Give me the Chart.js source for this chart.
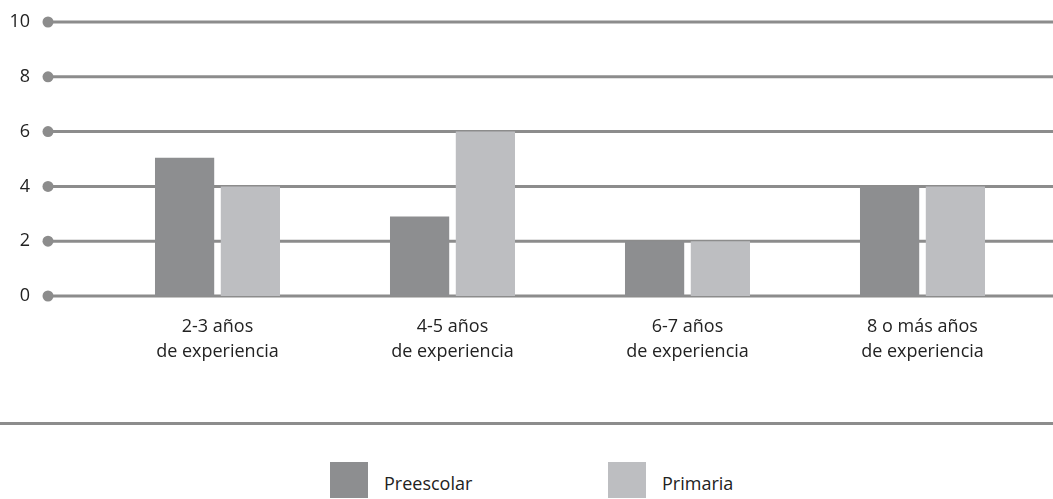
<!DOCTYPE html>
<html>
<head>
<meta charset="utf-8">
<script src="https://cdn.jsdelivr.net/npm/chart.js@4/dist/chart.umd.min.js"></script>
<style>
  body { margin: 0; background: #fff; font-family: 'Open Sans', sans-serif; }
  #wrap { position: relative; width: 1053px; height: 499px; overflow: hidden; }
  #chartBox { position: absolute; left: 0; top: 0; width: 1053px; height: 361px; }
  #rule { position: absolute; left: 0; top: 422px; width: 1053px; height: 3px; background: #8c8c8c; }
  #legend { position: absolute; left: 330px; top: 462px; display: flex; }
  .item { display: flex; align-items: center; width: 278px; }
  .swatch { width: 38px; height: 36px; margin-right: 16px; }
  .item span { font-size: 18px; color: #222; margin-top: 6px; }
</style>
</head>
<body>
<div id="wrap">
  <div id="chartBox"><canvas id="myChart"></canvas></div>
  <div id="rule"></div>
  <div id="legend"></div>
</div>
<script>
let categories = [['2-3 años', 'de experiencia'], ['4-5 años', 'de experiencia'], ['6-7 años', 'de experiencia'], ['8 o más años', 'de experiencia']];
let seriesNames = ['Preescolar', 'Primaria'];
let preescolar = [5.05, 2.9, 2, 4];
let primaria = [4, 6, 2, 4];
let yTicks = [0, 2, 4, 6, 8, 10];
let colorHex = ['#8d8e90', '#bdbec1'];

// gridlines with a dot at the left end, drawn behind the bars
let dotGrid = {
  id: 'dotGrid',
  beforeDatasetsDraw(chart) {
    let c = chart.ctx;
    let y = chart.scales.y;
    c.save();
    yTicks.forEach((t) => {
      let py = y.getPixelForValue(t);
      c.strokeStyle = '#8c8c8c';
      c.lineWidth = 3;
      c.beginPath();
      c.moveTo(48, py);
      c.lineTo(chart.width, py);
      c.stroke();
      c.fillStyle = '#8c8c8c';
      c.beginPath();
      c.arc(48, py, 5.5, 0, Math.PI * 2);
      c.fill();
    });
    c.restore();
  }
};

let ctx = document.getElementById('myChart').getContext('2d');
let myChart = new Chart(ctx, {
  type: 'bar',
  data: {
    labels: categories,
    datasets: [{
      label: seriesNames[0],
      data: preescolar,
      backgroundColor: colorHex[0]
    }, {
      label: seriesNames[1],
      data: primaria,
      backgroundColor: colorHex[1]
    }]
  },
  options: {
    responsive: true,
    maintainAspectRatio: false,
    animation: false,
    layout: { padding: { left: 10, right: 13, top: 22, bottom: 0 } },
    datasets: {
      bar: { categoryPercentage: 0.56, barPercentage: 0.9 }
    },
    plugins: {
      legend: { display: false },
      tooltip: { enabled: false }
    },
    scales: {
      x: {
        afterFit: (axis) => {
          axis.height = 65;
        },
        grid: { display: false, drawTicks: false },
        border: { display: false },
        ticks: {
          color: '#222',
          padding: 18,
          maxRotation: 0,
          font: { family: 'Open Sans', size: 18, lineHeight: 1.4 }
        }
      },
      y: {
        min: 0,
        max: 10,
        afterBuildTicks: (axis) => {
          axis.ticks = yTicks.map((v) => ({ value: v }));
        },
        // labels sit 70px left of the plot; fix the axis box size by hand
        afterFit: (axis) => {
          axis.width = 90;
          axis.paddingTop = 0;
          axis.paddingBottom = 0;
        },
        grid: { display: false, drawTicks: false },
        border: { display: false },
        ticks: {
          color: '#222',
          padding: 70,
          font: { family: 'Open Sans', size: 18 }
        }
      }
    }
  },
  plugins: [dotGrid]
});

// legend built from the same series names and colours
let legendEl = document.getElementById('legend');
seriesNames.forEach((name, i) => {
  let item = document.createElement('div');
  item.className = 'item';
  let sw = document.createElement('div');
  sw.className = 'swatch';
  sw.style.background = colorHex[i];
  let txt = document.createElement('span');
  txt.textContent = name;
  item.appendChild(sw);
  item.appendChild(txt);
  legendEl.appendChild(item);
});
</script>
</body>
</html>
